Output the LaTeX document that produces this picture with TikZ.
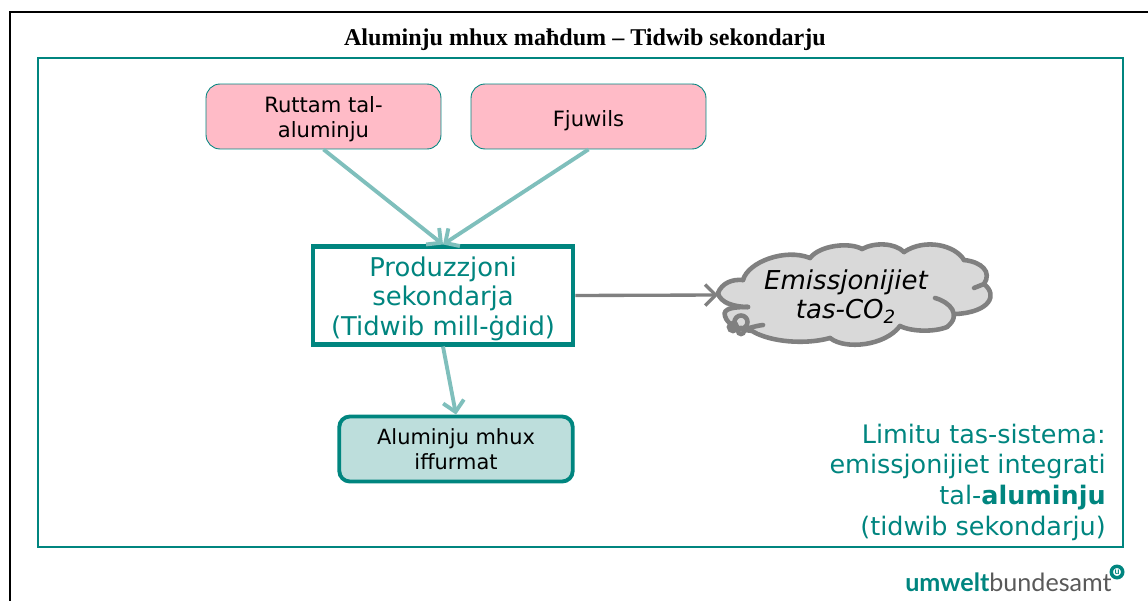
\documentclass[tikz,border=0pt]{standalone}
\usepackage{fontspec}
\setmainfont{DejaVu Sans}
\newfontfamily\titlefont{Liberation Serif}
\newfontfamily\logofont{Lato}
\usetikzlibrary{arrows.meta}
\definecolor{teal1}{HTML}{00857F}
\definecolor{teal2}{HTML}{7FBFBC}
\definecolor{teal3}{HTML}{BDDEDC}
\definecolor{pink1}{HTML}{FFBBC7}
\definecolor{grey1}{HTML}{808080}
\definecolor{grey2}{HTML}{D9D9D9}
\newcommand{\dropline}[1]{\rule{0pt}{#1}}
\begin{document}
\begin{tikzpicture}[x=0.02cm,y=-0.02cm,
    source/.style ={draw=teal1, fill=pink1, rounded corners=8pt, line width=0.5pt, minimum width=4.7cm, minimum height=1.3cm, align=center, inner sep=0pt, font=\fontsize{12}{14.4}\selectfont},
    process/.style ={draw=teal1, fill=white, line width=2.6pt, minimum width=5.2cm, minimum height=1.95cm, align=center, inner sep=0pt, text=teal1, font=\fontsize{14.7}{17}\selectfont},
    product/.style ={draw=teal1, fill=teal3, rounded corners=6pt, line width=2.2pt, minimum width=4.67cm, minimum height=1.3cm, align=center, inner sep=0pt, font=\fontsize{11.9}{14}\selectfont},
    flow/.style ={teal2, line width=2.2pt, -{Straight Barb[length=6pt,width=12pt,line width=2.2pt]}},
    emission/.style ={grey1, line width=1.9pt, -{Straight Barb[length=6pt,width=12pt,line width=1.9pt]}},
    cloudline/.style ={draw=grey1, line width=2.6pt, line cap=round}]
   \useasboundingbox (0,0) rectangle (1148,601);

   \draw[line width=1.2pt] (10,601) -- (10,12) -- (1148,12);
   \draw[teal1, line width=1.3pt] (38,58) rectangle (1123,547);
   \node (title) at (585,39.5) {\titlefont\bfseries\fontsize{13.7}{16}\selectfont Aluminju mhux maħdum – Tidwib sekondarju};

   \node[source] (ruttam) at (323.5,116.5) {\dropline{12.5pt}Ruttam tal-\\aluminju};
   \node[source] (fjuwils) at (588.5,116.5) {\dropline{13.7pt}Fjuwils};
   \node[process] (prod) at (443,295.5) {\dropline{15pt}Produzzjoni\\sekondarja\\(Tidwib mill-ġdid)};
   \node[product] (alu) at (456,449) {Aluminju mhux\\iffurmat};

   % cloud
   \fill[grey2] (718,293) .. controls (722,283) and (732,279) .. (743,280)
     .. controls (748,262) and (785,248) .. (810,258)
     .. controls (820,245) and (850,242) .. (862,249)
     .. controls (875,242) and (895,243) .. (904,252)
     .. controls (925,238) and (955,245) .. (964,260)
     .. controls (982,262) and (992,272) .. (984,284)
     .. controls (998,295) and (990,312) .. (956,314)
     .. controls (956,322) and (950,328) .. (940,327)
     .. controls (930,332) and (912,332) .. (900,327)
     .. controls (885,346) and (845,350) .. (830,338)
     .. controls (805,345) and (770,342) .. (758,331)
     .. controls (745,332) and (728,328) .. (725,316)
     .. controls (722,312) and (725,309) .. (729,307)
     .. controls (722,304) and (718,299) .. (718,293) -- cycle;
   \draw[cloudline] (718,293) .. controls (722,283) and (732,279) .. (743,280);
   \draw[cloudline] (743,280) .. controls (748,262) and (785,248) .. (810,258);
   \draw[cloudline] (810,258) .. controls (820,245) and (850,242) .. (862,249);
   \draw[cloudline] (862,249) .. controls (875,242) and (895,243) .. (904,252);
   \draw[cloudline] (904,252) .. controls (925,238) and (955,245) .. (964,260);
   \draw[cloudline] (964,260) .. controls (982,262) and (992,272) .. (984,284) -- (974,288);
   \draw[cloudline] (984,284) .. controls (998,295) and (990,312) .. (956,314);
   \draw[cloudline] (935,298) .. controls (950,302) and (962,315) .. (947,327);
   \draw[cloudline] (947,327) .. controls (935,332) and (912,332) .. (900,326);
   \draw[cloudline] (900,326) .. controls (885,346) and (845,350) .. (830,338);
   \draw[cloudline] (830,338) .. controls (805,345) and (770,342) .. (752,331) -- (745,330);
   \draw[cloudline] (763,325) .. controls (755,326) and (750,328) .. (745,329);
   \draw[cloudline] (748,307) .. controls (735,307) and (722,308) .. (725,316) .. controls (726,320) and (729,323) .. (732,325);
   \draw[cloudline] (718,293) .. controls (720,303) and (735,307) .. (748,307);
   \draw[cloudline] (741,322) circle (6.5);
   \draw[cloudline, fill=grey1] (733,327) circle (4);
   \draw[cloudline] (741,331) circle (3);
   \node[align=center, inner sep=0pt, font=\fontsize{14.8}{16.5}\selectfont\itshape] (co2) at (846,297) {Emissjonijiet\\tas-CO\textsubscript{2}};
   \coordinate (cloudw) at (718,295);

   \draw[flow] (ruttam.south) to (prod.north);
   \draw[flow] (fjuwils.south) to (prod.north);
   \draw[flow] (prod.south) to (alu.north);
   \draw[emission] (prod.east) to (cloudw);

   \node[text=teal1, align=right, anchor=south east, inner sep=0pt, font=\fontsize{14.5}{17.5}\selectfont] (limit) at (1106,541) {Limitu tas-sistema:\\emissjonijiet integrati\\tal-\textbf{aluminju}\\(tidwib sekondarju)};

   \node[anchor=base east, inner sep=0pt] (logo) at (1112,591) {\logofont\fontsize{14.3}{16}\selectfont\textcolor{teal1}{\textbf{umwelt}}\textcolor{black!65}{bundesamt}};
   \node[circle, draw=teal1, line width=2pt, fill=white, inner sep=0pt, minimum size=6.5pt, text=teal1, font=\logofont\bfseries\fontsize{5}{6}\selectfont] (logou) at (1117,572) {u};
\end{tikzpicture}
\end{document}
